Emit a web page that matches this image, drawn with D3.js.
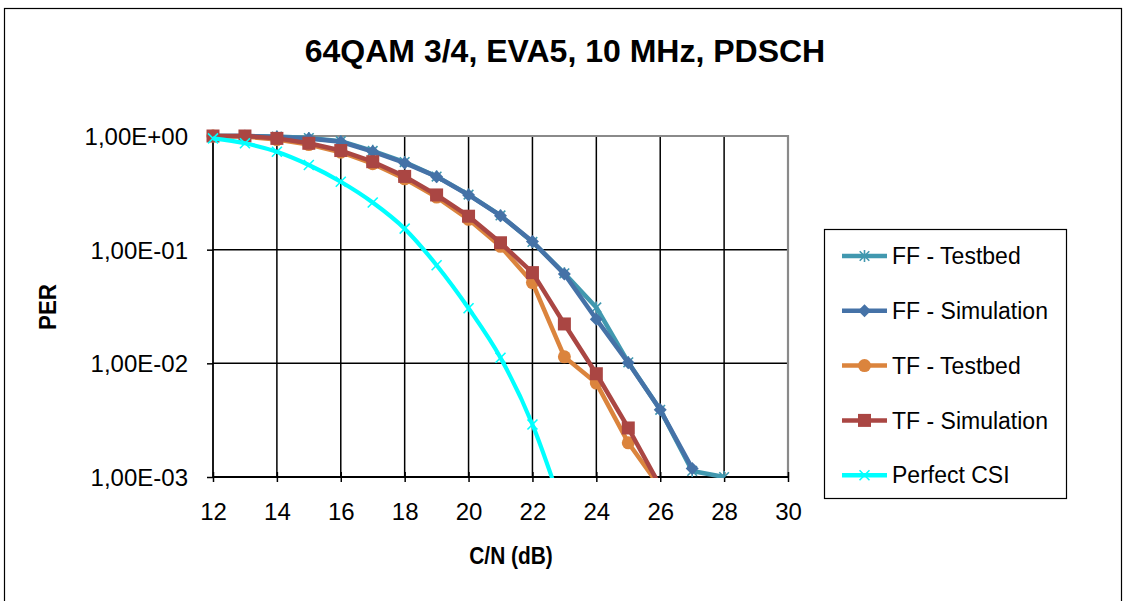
<!DOCTYPE html>
<html>
<head>
<meta charset="utf-8">
<script src="https://cdn.jsdelivr.net/npm/d3@7"></script>
<style>
  html, body { margin: 0; padding: 0; background: #fff; }
  svg { display: block; font-family: Arial, "Liberation Sans", sans-serif; }
</style>
</head>
<body>
<svg id="chart" width="1126" height="601"></svg>
<script>
// C/N values in dB
const cn = [12, 13, 14, 15, 16, 17, 18, 19, 20, 21, 22, 23, 24, 25, 26, 27, 28];

// Packet error rate per series
const ffTestbed    = [1, 1, 0.99, 0.96, 0.9, 0.74, 0.59, 0.44, 0.305, 0.2, 0.117, 0.062, 0.031, 0.0102, 0.0039, 0.00113, 0.001];
const ffSimulation = [1, 1, 0.98, 0.95, 0.89, 0.73, 0.58, 0.439, 0.303, 0.199, 0.118, 0.061, 0.0244, 0.0101, 0.0039, 0.00119];
const tfTestbed    = [1, 0.99, 0.93, 0.84, 0.72, 0.57, 0.42, 0.29, 0.185, 0.107, 0.0513, 0.0114, 0.0067, 0.002, 0.00081];
const tfSimulation = [1, 1, 0.953, 0.863, 0.745, 0.594, 0.441, 0.303, 0.197, 0.115, 0.0628, 0.0222, 0.0081, 0.0027, 0.00083];
const perfectCsi   = [0.953, 0.863, 0.727, 0.556, 0.396, 0.26, 0.153, 0.073, 0.0305, 0.0112, 0.0029, 0.00047];

const seriesNames = ["FF - Testbed", "FF - Simulation", "TF - Testbed", "TF - Simulation", "Perfect CSI"];

// Axis ticks
const xTickValues = [12, 14, 16, 18, 20, 22, 24, 26, 28, 30];
const yTickValues = [1, 0.1, 0.01, 0.001];
const yTickLabels = ["1,00E+00", "1,00E-01", "1,00E-02", "1,00E-03"];

const titleText = "64QAM 3/4, EVA5, 10 MHz, PDSCH";
const xTitle = "C/N (dB)";
const yTitle = "PER";

const series = [
  { name: seriesNames[0], values: ffTestbed,    color: "#4198AF", marker: "asterisk", curve: d3.curveLinear },
  { name: seriesNames[1], values: ffSimulation, color: "#4572A7", marker: "diamond",  curve: d3.curveLinear },
  { name: seriesNames[2], values: tfTestbed,    color: "#DB843D", marker: "circle",   curve: d3.curveLinear },
  { name: seriesNames[3], values: tfSimulation, color: "#AA4643", marker: "square",   curve: d3.curveLinear },
  { name: seriesNames[4], values: perfectCsi,   color: "#00FFFF", marker: "cross",    curve: d3.curveCardinal.tension(0) }
];

const svg = d3.select("#chart");
const plot = { left: 213, right: 788, top: 136, bottom: 477 };

// Chart frame
svg.append("rect")
  .attr("x", 4.5).attr("y", 8.5)
  .attr("width", 1117).attr("height", 620)
  .attr("fill", "#fff").attr("stroke", "#000").attr("stroke-width", 1.2);

const x = d3.scaleLinear().domain([12, 30]).range([plot.left, plot.right]);
const y = d3.scaleLog().domain([0.001, 1]).range([plot.bottom, plot.top]);

// Gridlines
const grid = svg.append("g");
grid.selectAll("line.vx")
  .data(xTickValues.filter(v => v > 12 && v < 30))
  .join("line")
  .attr("x1", d => x(d)).attr("x2", d => x(d))
  .attr("y1", plot.top).attr("y2", plot.bottom)
  .attr("stroke", "#000").attr("stroke-width", 1.5);
grid.selectAll("line.hy")
  .data(yTickValues.filter(v => v > 0.001 && v < 1))
  .join("line")
  .attr("x1", plot.left).attr("x2", plot.right)
  .attr("y1", d => y(d)).attr("y2", d => y(d))
  .attr("stroke", "#000").attr("stroke-width", 1.5);

// Plot-area border (top and right)
svg.append("path")
  .attr("d", `M${plot.left},${plot.top}H${plot.right}V${plot.bottom}`)
  .attr("fill", "none").attr("stroke", "#8a8a8a").attr("stroke-width", 2.2);

// Axes
const xAxis = d3.axisBottom(x).tickValues(xTickValues).tickSize(0).tickPadding(0).tickFormat(d3.format("d"));
const gx = svg.append("g").attr("transform", `translate(0,${plot.bottom})`).call(xAxis);
gx.select(".domain").remove();
gx.selectAll(".tick text").remove();
gx.selectAll(".tick").append("line")
  .attr("y1", -5).attr("y2", 5).attr("stroke", "#000").attr("stroke-width", 1.5);
gx.selectAll(".tick").append("text")
  .attr("y", 43).attr("fill", "#000")
  .attr("text-anchor", "middle")
  .style("font-size", "24px")
  .text(d => d3.format("d")(d));
svg.append("line")
  .attr("x1", plot.left).attr("x2", plot.right)
  .attr("y1", plot.bottom).attr("y2", plot.bottom)
  .attr("stroke", "#000").attr("stroke-width", 1.8);

const yAxis = d3.axisLeft(y).tickValues(yTickValues).tickSize(0).tickFormat((d, i) => yTickLabels[i]);
const gy = svg.append("g").attr("transform", `translate(${plot.left},0)`).call(yAxis);
gy.select(".domain").remove();
gy.selectAll(".tick text").remove();
gy.selectAll(".tick").append("line")
  .attr("x1", -6).attr("x2", 0).attr("stroke", "#000").attr("stroke-width", 1.5);
gy.selectAll(".tick").append("text")
  .attr("x", -25).attr("dy", "0.36em").attr("fill", "#000")
  .attr("text-anchor", "end")
  .style("font-size", "24px")
  .text((d, i) => yTickLabels[i]);
svg.append("line")
  .attr("x1", plot.left).attr("x2", plot.left)
  .attr("y1", plot.top).attr("y2", plot.bottom)
  .attr("stroke", "#000").attr("stroke-width", 1.8);

// Titles (axis titles use a slightly condensed bold face)
svg.append("text")
  .attr("x", 565).attr("y", 62)
  .attr("text-anchor", "middle")
  .style("font-size", "32px").style("font-weight", "bold")
  .text(titleText);
svg.append("text")
  .attr("transform", "translate(511,564) scale(0.87,1)")
  .attr("text-anchor", "middle")
  .style("font-size", "24px").style("font-weight", "bold")
  .text(xTitle);
svg.append("text")
  .attr("transform", "translate(56,307) rotate(-90) scale(0.93,1)")
  .attr("text-anchor", "middle")
  .style("font-size", "24px").style("font-weight", "bold")
  .text(yTitle);

// Marker shapes
function drawMarker(g, type, color, cx, cy) {
  if (type === "asterisk") {
    const r = 6;
    const a = r * 0.8;
    g.append("path")
      .attr("d", `M${cx},${cy - r}V${cy + r}M${cx - a},${cy - a}L${cx + a},${cy + a}M${cx - a},${cy + a}L${cx + a},${cy - a}`)
      .attr("stroke", color).attr("stroke-width", 1.6).attr("fill", "none");
  } else if (type === "diamond") {
    const r = 6.5;
    g.append("path")
      .attr("d", `M${cx},${cy - r}L${cx + r},${cy}L${cx},${cy + r}L${cx - r},${cy}Z`)
      .attr("fill", color);
  } else if (type === "circle") {
    g.append("circle").attr("cx", cx).attr("cy", cy).attr("r", 6.5).attr("fill", color);
  } else if (type === "square") {
    const r = 6.5;
    g.append("rect").attr("x", cx - r).attr("y", cy - r).attr("width", 2 * r).attr("height", 2 * r).attr("fill", color);
  } else if (type === "cross") {
    const r = 5;
    g.append("path")
      .attr("d", `M${cx - r},${cy - r}L${cx + r},${cy + r}M${cx - r},${cy + r}L${cx + r},${cy - r}`)
      .attr("stroke", color).attr("stroke-width", 1.6).attr("fill", "none");
  }
}

// Series lines and markers, clipped at the plot bottom
svg.append("clipPath").attr("id", "plotClip")
  .append("rect")
  .attr("x", plot.left - 12).attr("y", plot.top - 14)
  .attr("width", plot.right - plot.left + 24)
  .attr("height", plot.bottom - plot.top + 14 + 1);

const layer = svg.append("g").attr("clip-path", "url(#plotClip)");
series.forEach(s => {
  const pts = s.values.map((v, i) => [cn[i], v]);
  const line = d3.line().x(d => x(d[0])).y(d => y(d[1])).curve(s.curve);
  const g = layer.append("g");
  g.append("path")
    .attr("d", line(pts))
    .attr("fill", "none")
    .attr("stroke", s.color)
    .attr("stroke-width", s.marker === "cross" ? 4.2 : 4.5)
    .attr("stroke-linejoin", "round");
  pts.forEach(p => drawMarker(g, s.marker, s.color, x(p[0]), y(p[1])));
});

// Legend
const legend = svg.append("g");
legend.append("rect")
  .attr("x", 824.5).attr("y", 229.5)
  .attr("width", 242).attr("height", 269)
  .attr("fill", "#fff").attr("stroke", "#000").attr("stroke-width", 1.2);
series.forEach((s, i) => {
  const cy = 256 + i * 54.8;
  const g = legend.append("g");
  g.append("line")
    .attr("x1", 842).attr("x2", 887).attr("y1", cy).attr("y2", cy)
    .attr("stroke", s.color).attr("stroke-width", 4.5);
  drawMarker(g, s.marker, s.color, 864.5, cy);
  g.append("text")
    .attr("x", 892).attr("y", cy).attr("dy", "0.36em")
    .style("font-size", "23px")
    .text(s.name);
});
</script>
</body>
</html>
